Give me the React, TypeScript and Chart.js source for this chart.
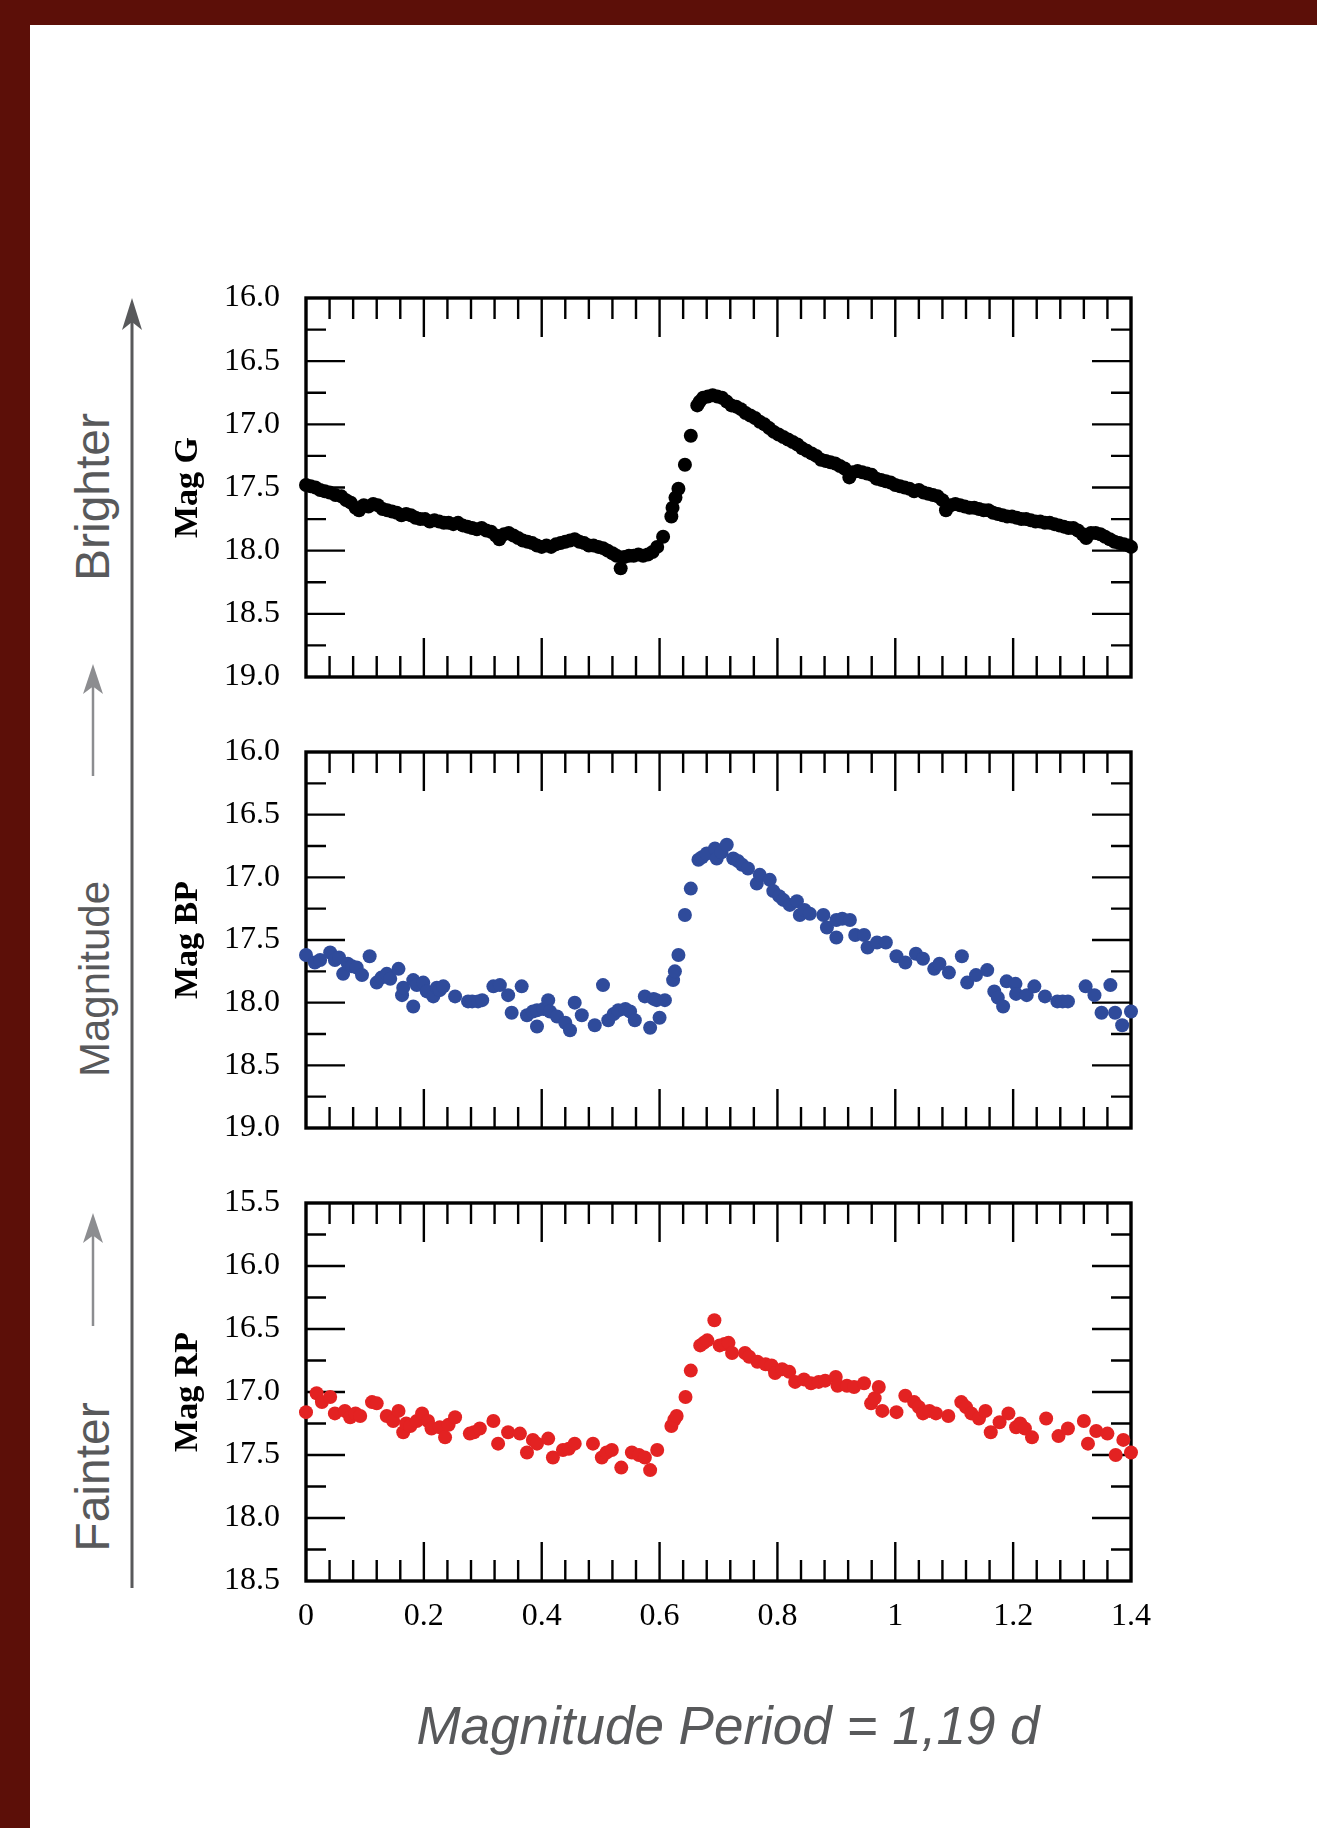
import React, { useEffect, useRef } from "react";
import { Chart, registerables } from "chart.js";

Chart.register(...registerables);

// ---------- data (phase, magnitude) ----------
const G_PHASE = [0.000,0.008,0.016,0.024,0.032,0.040,0.050,0.060,0.068,0.076,0.084,0.090,0.098,0.106,0.114,0.122,0.130,0.138,0.146,0.154,0.162,0.170,0.178,0.186,0.194,0.202,0.210,0.218,0.226,0.234,0.242,0.250,0.258,0.266,0.274,0.282,0.290,0.298,0.306,0.314,0.322,0.328,0.336,0.344,0.352,0.360,0.368,0.376,0.384,0.392,0.400,0.408,0.416,0.424,0.432,0.440,0.448,0.456,0.464,0.472,0.480,0.488,0.496,0.504,0.512,0.520,0.527,0.534,0.540,0.548,0.556,0.564,0.572,0.580,0.588,0.596,0.606,0.620,0.622,0.627,0.632,0.643,0.653,0.664,0.668,0.674,0.682,0.690,0.698,0.706,0.714,0.722,0.730,0.738,0.746,0.754,0.762,0.770,0.778,0.786,0.794,0.802,0.810,0.818,0.826,0.834,0.842,0.850,0.858,0.866,0.874,0.882,0.890,0.898,0.906,0.914,0.922,0.928,0.936,0.944,0.952,0.960,0.968,0.976,0.984,0.992,1.000,1.008,1.016,1.024,1.032,1.040,1.048,1.056,1.064,1.072,1.080,1.086,1.094,1.102,1.110,1.118,1.126,1.134,1.142,1.150,1.158,1.166,1.174,1.182,1.190,1.198,1.206,1.214,1.222,1.230,1.238,1.246,1.254,1.262,1.270,1.278,1.286,1.294,1.302,1.310,1.318,1.324,1.332,1.340,1.348,1.356,1.364,1.372,1.380,1.388,1.396,1.400];
const G_MAG = [17.48,17.49,17.50,17.52,17.53,17.54,17.56,17.57,17.60,17.62,17.66,17.68,17.64,17.65,17.63,17.64,17.67,17.68,17.69,17.70,17.72,17.71,17.72,17.74,17.75,17.75,17.77,17.76,17.77,17.78,17.78,17.79,17.78,17.80,17.81,17.82,17.83,17.82,17.84,17.85,17.88,17.91,17.87,17.86,17.88,17.90,17.92,17.93,17.94,17.96,17.97,17.96,17.97,17.95,17.94,17.93,17.92,17.91,17.93,17.94,17.96,17.96,17.97,17.98,18.00,18.02,18.04,18.14,18.05,18.04,18.04,18.03,18.04,18.03,18.01,17.97,17.89,17.73,17.66,17.58,17.51,17.32,17.09,16.85,16.82,16.79,16.78,16.77,16.78,16.79,16.82,16.85,16.86,16.88,16.91,16.93,16.95,16.98,17.00,17.03,17.06,17.08,17.10,17.12,17.14,17.16,17.19,17.21,17.23,17.25,17.28,17.29,17.30,17.31,17.33,17.35,17.42,17.38,17.37,17.38,17.39,17.40,17.43,17.44,17.45,17.46,17.48,17.49,17.50,17.51,17.53,17.52,17.54,17.55,17.56,17.57,17.60,17.68,17.64,17.63,17.64,17.65,17.66,17.66,17.67,17.68,17.68,17.70,17.71,17.72,17.73,17.73,17.74,17.75,17.75,17.76,17.77,17.77,17.78,17.78,17.79,17.80,17.81,17.82,17.82,17.84,17.87,17.90,17.86,17.86,17.87,17.89,17.91,17.93,17.94,17.95,17.96,17.97];

const BP_PHASE = [0.000,0.015,0.024,0.041,0.049,0.056,0.063,0.071,0.078,0.086,0.095,0.108,0.120,0.128,0.137,0.143,0.157,0.163,0.165,0.182,0.182,0.188,0.199,0.205,0.216,0.222,0.227,0.233,0.253,0.275,0.282,0.292,0.299,0.318,0.329,0.343,0.349,0.366,0.375,0.385,0.392,0.392,0.403,0.411,0.414,0.426,0.440,0.448,0.456,0.468,0.490,0.504,0.513,0.522,0.530,0.542,0.550,0.558,0.575,0.584,0.590,0.595,0.600,0.609,0.623,0.626,0.632,0.643,0.653,0.666,0.672,0.680,0.694,0.697,0.705,0.714,0.725,0.733,0.740,0.750,0.765,0.770,0.787,0.793,0.803,0.810,0.821,0.833,0.838,0.846,0.855,0.878,0.884,0.900,0.900,0.910,0.923,0.932,0.947,0.953,0.969,0.984,1.002,1.017,1.035,1.047,1.066,1.075,1.091,1.113,1.122,1.137,1.156,1.168,1.174,1.183,1.189,1.204,1.205,1.223,1.236,1.254,1.275,1.284,1.293,1.323,1.338,1.350,1.365,1.373,1.385,1.400];
const BP_MAG = [17.62,17.68,17.66,17.60,17.66,17.64,17.77,17.69,17.71,17.72,17.78,17.63,17.84,17.80,17.77,17.81,17.73,17.94,17.88,17.82,18.03,17.86,17.84,17.91,17.95,17.88,17.90,17.87,17.95,17.99,17.99,17.99,17.98,17.87,17.86,17.94,18.08,17.87,18.10,18.07,18.06,18.19,18.05,17.98,18.07,18.11,18.16,18.22,18.00,18.10,18.18,17.86,18.14,18.09,18.06,18.05,18.07,18.14,17.95,18.20,17.97,17.98,18.12,17.98,17.82,17.75,17.62,17.30,17.09,16.86,16.84,16.81,16.77,16.85,16.80,16.74,16.85,16.87,16.90,16.93,17.05,16.98,17.02,17.11,17.15,17.18,17.22,17.19,17.30,17.26,17.29,17.30,17.40,17.48,17.34,17.33,17.34,17.46,17.46,17.56,17.52,17.52,17.63,17.68,17.61,17.65,17.73,17.69,17.76,17.63,17.84,17.78,17.74,17.91,17.96,18.03,17.83,17.85,17.93,17.94,17.87,17.95,17.99,17.99,17.99,17.87,17.94,18.08,17.86,18.08,18.18,18.07];

const RP_PHASE = [0.000,0.018,0.027,0.041,0.049,0.066,0.075,0.084,0.092,0.112,0.120,0.137,0.148,0.157,0.165,0.170,0.177,0.188,0.197,0.207,0.213,0.227,0.236,0.242,0.253,0.278,0.285,0.295,0.318,0.326,0.343,0.363,0.375,0.385,0.392,0.411,0.419,0.436,0.446,0.456,0.487,0.502,0.510,0.519,0.535,0.553,0.565,0.575,0.584,0.596,0.620,0.625,0.629,0.644,0.653,0.669,0.675,0.681,0.693,0.702,0.710,0.717,0.723,0.745,0.752,0.766,0.780,0.790,0.796,0.808,0.820,0.830,0.845,0.857,0.870,0.881,0.899,0.902,0.918,0.930,0.947,0.959,0.965,0.972,0.978,1.002,1.017,1.032,1.040,1.047,1.058,1.069,1.090,1.112,1.120,1.129,1.142,1.153,1.162,1.177,1.192,1.205,1.212,1.220,1.232,1.256,1.277,1.293,1.320,1.327,1.341,1.360,1.374,1.387,1.400];
const RP_MAG = [17.16,17.01,17.08,17.04,17.17,17.15,17.20,17.17,17.19,17.08,17.09,17.19,17.23,17.15,17.32,17.25,17.27,17.23,17.17,17.23,17.29,17.28,17.36,17.26,17.20,17.33,17.32,17.29,17.23,17.41,17.32,17.33,17.48,17.38,17.41,17.37,17.52,17.46,17.45,17.41,17.41,17.52,17.48,17.46,17.60,17.48,17.50,17.52,17.62,17.46,17.27,17.22,17.19,17.04,16.83,16.63,16.61,16.59,16.43,16.63,16.62,16.61,16.69,16.69,16.72,16.76,16.78,16.79,16.85,16.82,16.84,16.92,16.90,16.93,16.92,16.91,16.88,16.95,16.95,16.96,16.93,17.09,17.05,16.96,17.15,17.16,17.03,17.08,17.12,17.17,17.15,17.17,17.19,17.08,17.12,17.17,17.21,17.15,17.32,17.24,17.17,17.28,17.25,17.29,17.36,17.21,17.35,17.29,17.23,17.41,17.31,17.33,17.50,17.38,17.48];

// axis ranges and tick steps
const X_RANGE = [0, 1.4];
const X_MAJOR_STEP = 0.2;
const X_MINOR_STEP = 0.04;
const G_RANGE = [16, 19];
const BP_RANGE = [16, 19];
const RP_RANGE = [15.5, 18.5];
const Y_MAJOR_STEP = 0.5;
const Y_MINOR_STEP = 0.25;

const TITLES = ["Mag G", "Mag BP", "Mag RP"];
const BIG_TITLE = "Magnitude Period = 1,19 d";
const SIDE_LABELS = ["Brighter", "Magnitude", "Fainter"];

const SERIF = "'Liberation Serif', 'Times New Roman', serif";
const SANS = "'Liberation Sans', Arial, sans-serif";

const PAGE_W = 1317;
const PLOT_LEFT = 306;
const PLOT_RIGHT = 1131;
const PAD_LEFT = 168;
const PAD_TOP = 48;

const frameTicks = {
  id: "frameTicks",
  beforeDatasetsDraw(chart: any) {
    const { ctx, chartArea: a, scales } = chart;
    const x = scales.x;
    const y = scales.y;
    ctx.save();
    ctx.strokeStyle = "#000";
    ctx.lineWidth = 2.4;
    ctx.beginPath();
    const nx = Math.round((X_RANGE[1] - X_RANGE[0]) / X_MINOR_STEP);
    const perMajorX = Math.round(X_MAJOR_STEP / X_MINOR_STEP);
    for (let i = 1; i < nx; i++) {
      const px = x.getPixelForValue(X_RANGE[0] + i * X_MINOR_STEP);
      const len = i % perMajorX === 0 ? 39 : 21;
      ctx.moveTo(px, a.top);
      ctx.lineTo(px, a.top + len);
      ctx.moveTo(px, a.bottom);
      ctx.lineTo(px, a.bottom - len);
    }
    const ny = Math.round((y.max - y.min) / Y_MINOR_STEP);
    const perMajorY = Math.round(Y_MAJOR_STEP / Y_MINOR_STEP);
    for (let i = 1; i < ny; i++) {
      const py = y.getPixelForValue(y.min + i * Y_MINOR_STEP);
      const len = i % perMajorY === 0 ? 39 : 20;
      ctx.moveTo(a.left, py);
      ctx.lineTo(a.left + len, py);
      ctx.moveTo(a.right, py);
      ctx.lineTo(a.right - len, py);
    }
    ctx.stroke();
    ctx.lineWidth = 3.4;
    ctx.strokeRect(a.left, a.top, a.right - a.left, a.bottom - a.top);
    ctx.restore();
  },
};

type PanelProps = {
  plotTop: number;
  plotBottom: number;
  xAxisH: number;
  showX: boolean;
  phases: number[];
  mags: number[];
  range: number[];
  color: string;
  radius: number;
  title: string;
};

function Panel(p: PanelProps) {
  const ref = useRef<HTMLCanvasElement | null>(null);
  const top = p.plotTop - PAD_TOP;
  const height = p.plotBottom - top + p.xAxisH;
  useEffect(() => {
    if (!ref.current) return;
    const chart = new Chart(ref.current, {
      type: "scatter",
      data: {
        datasets: [
          {
            data: p.phases.map((ph, i) => ({ x: ph, y: p.mags[i] })),
            backgroundColor: p.color,
            borderWidth: 0,
            pointRadius: p.radius,
            pointHoverRadius: p.radius,
            clip: false as any,
          },
        ],
      },
      options: {
        responsive: false,
        animation: false,
        events: [],
        layout: {
          padding: { left: PAD_LEFT, right: PAGE_W - PLOT_RIGHT, top: PAD_TOP, bottom: 0 },
        },
        plugins: { legend: { display: false }, tooltip: { enabled: false } },
        scales: {
          x: {
            type: "linear",
            min: X_RANGE[0],
            max: X_RANGE[1],
            grid: { display: false },
            border: { display: false },
            ticks: {
              display: p.showX,
              stepSize: X_MAJOR_STEP,
              padding: 8,
              color: "#000",
              maxRotation: 0,
              autoSkip: false,
              font: { family: SERIF, size: 32 },
              callback: (v: any) => String(Math.round(Number(v) * 10) / 10),
            },
            afterFit: (s: any) => {
              s.height = p.xAxisH;
            },
          },
          y: {
            type: "linear",
            reverse: true,
            min: p.range[0],
            max: p.range[1],
            grid: { display: false },
            border: { display: false },
            ticks: {
              stepSize: Y_MAJOR_STEP,
              padding: 18,
              color: "#000",
              font: { family: SERIF, size: 32 },
              callback: (v: any) => Number(v).toFixed(1),
            },
            title: {
              display: true,
              text: p.title,
              color: "#000",
              padding: 0,
              font: { family: SERIF, size: 34, weight: "bold" },
            },
            afterFit: (s: any) => {
              s.width = PLOT_LEFT - PAD_LEFT;
            },
          },
        },
      } as any,
      plugins: [frameTicks],
    });
    return () => chart.destroy();
  }, []);
  return (
    <canvas
      ref={ref}
      width={PAGE_W}
      height={height}
      style={{ position: "absolute", left: 0, top, width: PAGE_W, height }}
    />
  );
}

function Arrow({ x, tip, bottom, color, w, head }: { x: number; tip: number; bottom: number; color: string; w: number; head: number }) {
  return (
    <g>
      <line x1={x} y1={bottom} x2={x} y2={tip + head * 0.6} stroke={color} strokeWidth={w} />
      <path
        d={`M ${x} ${tip} L ${x - 10} ${tip + head} L ${x} ${tip + head * 0.75} L ${x + 10} ${tip + head} Z`}
        fill={color}
      />
    </g>
  );
}

export default function App() {
  return (
    <div
      style={{
        position: "absolute",
        left: 0,
        top: 0,
        width: PAGE_W,
        height: 1828,
        background: "#5c0f08",
        overflow: "hidden",
      }}
    >
      <div style={{ position: "absolute", left: 30, top: 25, right: 0, bottom: 0, background: "#ffffff" }} />
      <svg
        width={PAGE_W}
        height={1828}
        style={{ position: "absolute", left: 0, top: 0 }}
      >
        <Arrow x={132} tip={298} bottom={1588} color="#58595b" w={3} head={32} />
        <Arrow x={93} tip={664} bottom={776} color="#8c8d90" w={2.5} head={30} />
        <Arrow x={93} tip={1213} bottom={1326} color="#8c8d90" w={2.5} head={30} />
        <text
          transform="translate(109 497) rotate(-90)"
          textAnchor="middle"
          fontFamily={SANS}
          fontSize={48}
          fill="#58595b"
        >
          {SIDE_LABELS[0]}
        </text>
        <text
          transform="translate(109 979) rotate(-90)"
          textAnchor="middle"
          fontFamily={SANS}
          fontSize={42}
          fill="#58595b"
        >
          {SIDE_LABELS[1]}
        </text>
        <text
          transform="translate(109 1477) rotate(-90)"
          textAnchor="middle"
          fontFamily={SANS}
          fontSize={48}
          fill="#58595b"
        >
          {SIDE_LABELS[2]}
        </text>
        <text
          x={728}
          y={1744}
          textAnchor="middle"
          fontFamily={SANS}
          fontStyle="italic"
          fontSize={53}
          fill="#58595b"
        >
          {BIG_TITLE}
        </text>
      </svg>
      <Panel plotTop={298} plotBottom={677} xAxisH={45} showX={false}
        phases={G_PHASE} mags={G_MAG} range={G_RANGE} color="#000000" radius={7} title={TITLES[0]} />
      <Panel plotTop={752} plotBottom={1128} xAxisH={45} showX={false}
        phases={BP_PHASE} mags={BP_MAG} range={BP_RANGE} color="#2f4b9b" radius={7} title={TITLES[1]} />
      <Panel plotTop={1203} plotBottom={1581} xAxisH={70} showX={true}
        phases={RP_PHASE} mags={RP_MAG} range={RP_RANGE} color="#e32222" radius={7} title={TITLES[2]} />
    </div>
  );
}
